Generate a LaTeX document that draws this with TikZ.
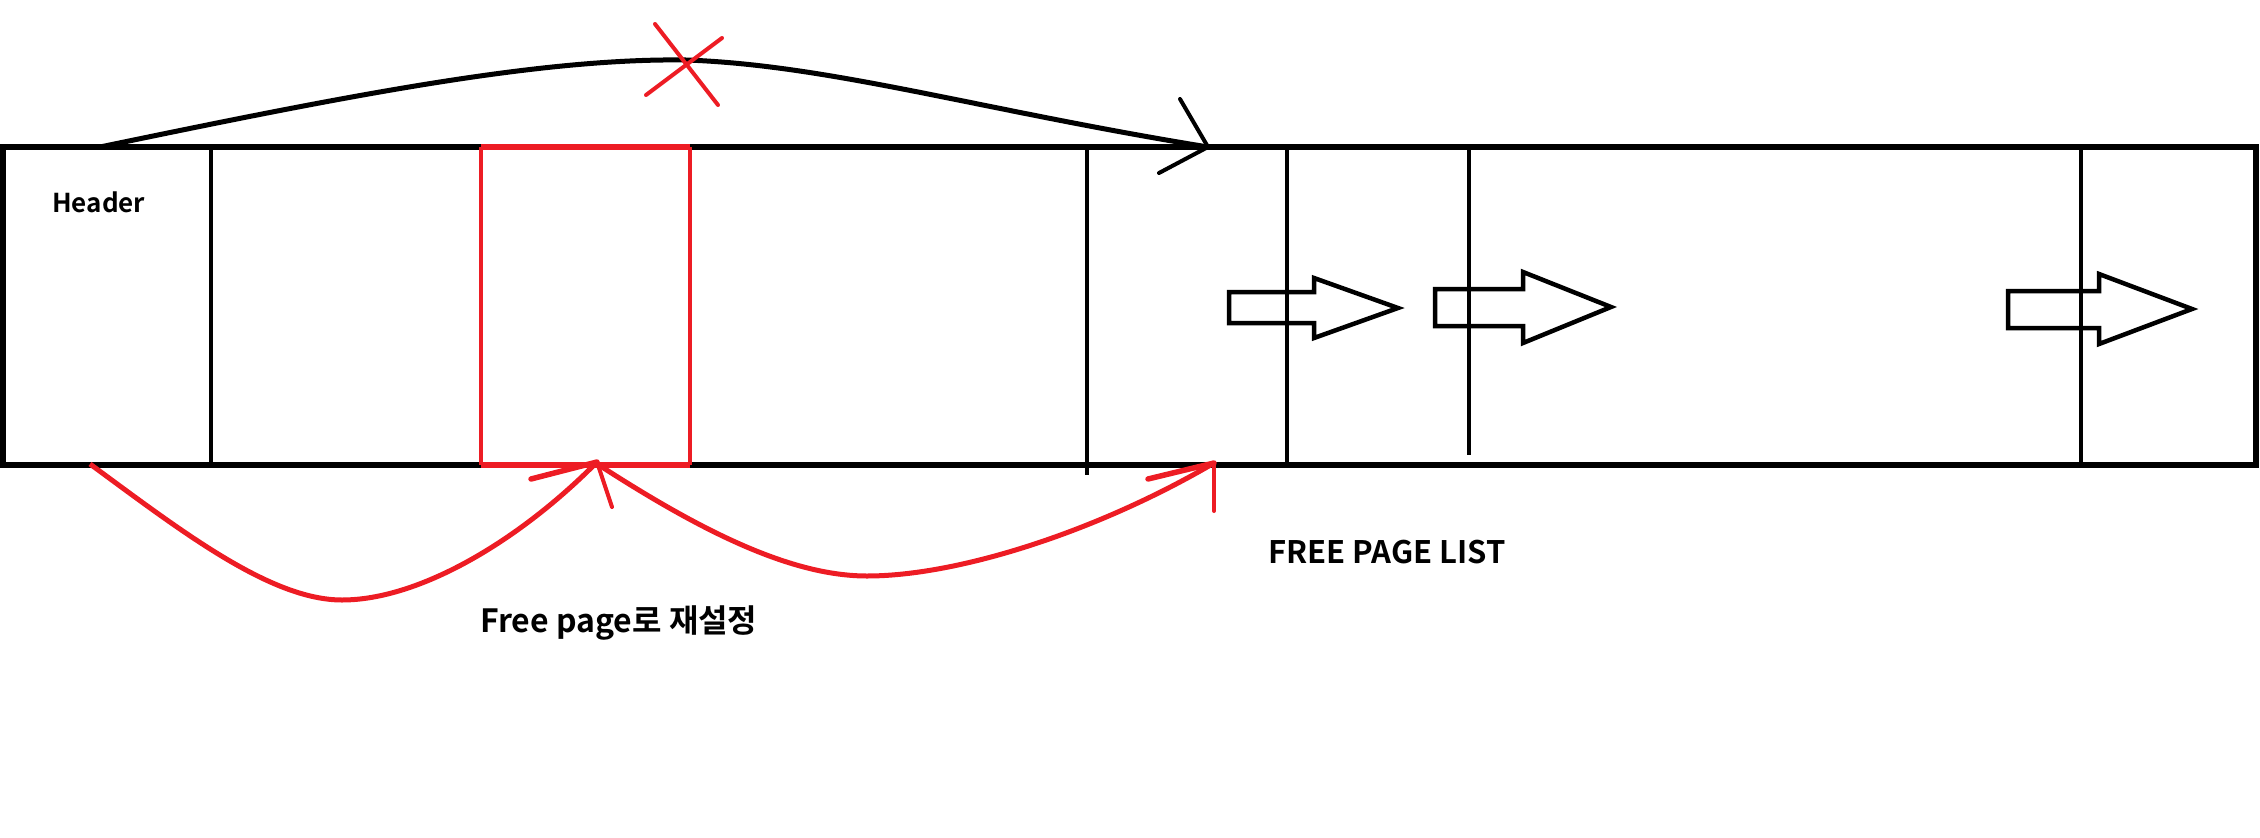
\documentclass[tikz,border=0pt]{standalone}
\usepackage{fontspec}
\newfontfamily\kr{Noto Sans CJK KR Bold}
\definecolor{paintred}{RGB}{237,28,36}
\tikzset{
  boxline/.style={line width=5.5pt, black},
  divline/.style={line width=4.5pt, black},
  redside/.style={line width=4.5pt, paintred},
  redthick/.style={line width=5.5pt, paintred},
  curveblk/.style={line width=5pt, black},
  curvered/.style={line width=5pt, paintred},
  tipline/.style={line width=4pt, line cap=round},
  blockarrow/.style={line width=4.5pt, black, line join=miter},
  lbl/.style={inner sep=0pt, anchor=base west, font=\kr}
}
\begin{document}
\begin{tikzpicture}[x=1pt,y=-1pt]
\useasboundingbox (0,0) rectangle (2260,838);
% coordinates
\coordinate (boxTL) at (3,147);
\coordinate (boxBR) at (2256,465);
\coordinate (redTL) at (481,147);
\coordinate (redBR) at (690,465);
\coordinate (redTR) at (690,147);
\coordinate (redBL) at (481,465);
% main box
\draw[boxline] (boxTL) rectangle (boxBR);
% dividers
\draw[divline] (211,147) -- (211,465);
\draw[divline] (1087,147) -- (1087,475);
\draw[divline] (1287,147) -- (1287,468);
\draw[divline] (1469,147) -- (1469,455);
\draw[divline] (2081,147) -- (2081,465);
% red cell
\draw[redside] (redTL) -- (redBL);
\draw[redside] (redTR) -- (redBR);
\draw[redthick] (redTL) -- (redTR);
\draw[redthick] (redBL) -- (redBR);
% black curve over the top
\coordinate (bs) at (100,147);
\coordinate (bp) at (686,60);
\coordinate (be) at (1208,147);
\draw[curveblk] (bs) .. controls (350,95) and (540,58) .. (bp)
  .. controls (830,65) and (980,110) .. (be);
\coordinate (bt1) at (1180,99);
\coordinate (bt2) at (1159,173);
\draw[tipline,black] (bt1) -- (be) -- (bt2);
% red X
\coordinate (x1) at (655,24);
\coordinate (x2) at (718,105);
\coordinate (x3) at (722,38);
\coordinate (x4) at (646,95);
\draw[tipline,paintred] (x1) -- (x2);
\draw[tipline,paintred] (x3) -- (x4);
% red curve 1
\coordinate (r1s) at (90,464);
\coordinate (r1m) at (342,600);
\coordinate (r1e) at (597,462);
\draw[curvered] (r1s) .. controls (180,530) and (270,600) .. (r1m)
  .. controls (420,600) and (520,540) .. (r1e);
\coordinate (r1t1) at (531,479);
\coordinate (r1t2) at (612,507);
\draw[tipline,paintred,line width=5.5pt] (r1t1) -- (r1e);
\draw[tipline,paintred] (r1e) -- (r1t2);
% red curve 2
\coordinate (r2s) at (602,467);
\coordinate (r2m) at (867,576);
\coordinate (r2e) at (1214,463);
\draw[curvered] (r2s) .. controls (700,530) and (790,576) .. (r2m)
  .. controls (960,576) and (1100,530) .. (r2e);
\coordinate (r2t1) at (1148,479);
\coordinate (r2t2) at (1214,511);
\draw[tipline,paintred,line width=5.5pt] (r2t1) -- (r2e);
\draw[tipline,paintred] (r2e) -- (r2t2);
% hollow block arrows
\draw[blockarrow] (1229,292) -- (1314,292) -- (1314,278) -- (1398,308) -- (1314,338) -- (1314,323) -- (1229,323) -- cycle;
\draw[blockarrow] (1435,289) -- (1523,289) -- (1523,272) -- (1611,307) -- (1523,343) -- (1523,326) -- (1435,326) -- cycle;
\draw[blockarrow] (2008,291) -- (2099,291) -- (2099,274) -- (2192,309) -- (2099,344) -- (2099,328) -- (2008,328) -- cycle;
% labels
\node[lbl, font=\kr\fontsize{26}{30}\selectfont] (header) at (52,212) {Header};
\node[lbl, font=\kr\fontsize{31}{36}\selectfont] (fpl) at (1268,563) {FREE PAGE LIST};
\node[lbl, font=\kr\fontsize{32}{38}\selectfont] (reset) at (480,632) {Free page로 재설정};
\end{tikzpicture}
\end{document}
